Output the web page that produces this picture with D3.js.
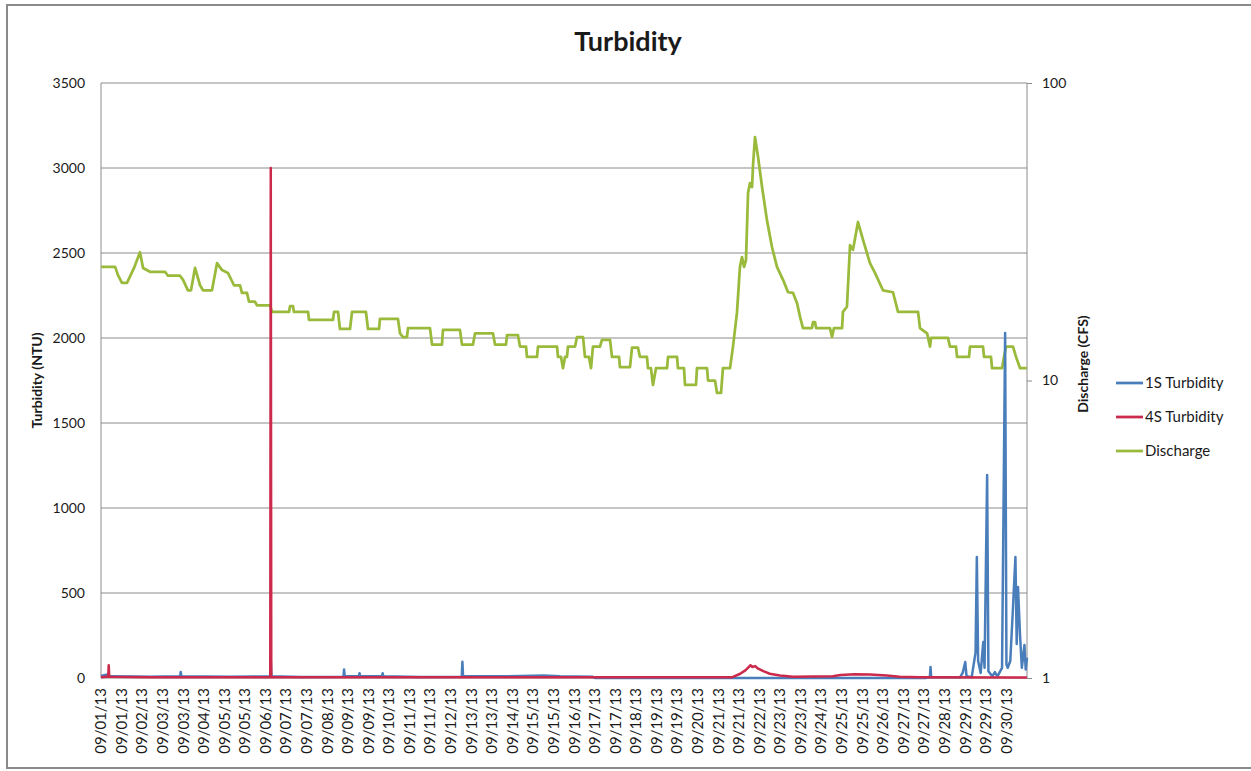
<!DOCTYPE html>
<html>
<head>
<meta charset="utf-8">
<script src="https://cdn.jsdelivr.net/npm/d3@7"></script>
<style>
  html, body { margin: 0; padding: 0; background: #fff; }
  svg { display: block; font-family: Lato, "Open Sans", sans-serif; }
</style>
</head>
<body>
<svg id="chart" width="1251" height="771"></svg>
<script>
// ---------- data ----------
const chartTitle = "Turbidity";
const leftAxisTitle = "Turbidity (NTU)";
const rightAxisTitle = "Discharge (CFS)";
const seriesNames = ["1S Turbidity", "4S Turbidity", "Discharge"];

// x-axis category labels, one every 16 hours starting 09/01/13 00:00
const xTickLabels = ["09/01/13","09/01/13","09/02/13","09/03/13","09/03/13","09/04/13","09/05/13","09/05/13",
  "09/06/13","09/07/13","09/07/13","09/08/13","09/09/13","09/09/13","09/10/13","09/11/13","09/11/13",
  "09/12/13","09/13/13","09/13/13","09/14/13","09/15/13","09/15/13","09/16/13","09/17/13","09/17/13",
  "09/18/13","09/19/13","09/19/13","09/20/13","09/21/13","09/21/13","09/22/13","09/23/13","09/23/13",
  "09/24/13","09/25/13","09/25/13","09/26/13","09/27/13","09/27/13","09/28/13","09/29/13","09/29/13","09/30/13"];
const labelStepHours = 16;
const totalHours = 720;

const leftTicks = [0, 500, 1000, 1500, 2000, 2500, 3000, 3500];
const rightTicks = [1, 10, 100];

// Discharge (CFS), hours since 09/01/13 00:00
const dischargeHours = [0,11,13.2,16.3,20.2,25.7,30.3,32.7,38.1,49.8,52.1,61.4,63.8,67.6,70,73.1,77,79.3,86.3,90.2,
  94.1,98.7,103.4,108.1,109.6,113.5,115.1,119.7,121.3,131.4,133,146.2,147,149.3,150,161,161.7,180.4,181.2,184.3,
  185.8,193.6,195.2,206,207.6,216.2,216.9,230.9,232.5,234.8,237.9,238.7,255.8,257.4,265.1,265.9,279.1,280.7,289.2,
  290.8,304.8,306.4,314.9,315.7,324.2,325.8,330.5,331.2,339,339.8,354.6,355.3,357.7,359.2,360.8,362.3,363.1,368.6,
  370.1,374.8,376.3,379.4,381,381.8,382.5,388,389.5,395.8,397.3,402.8,403.5,411.3,412.9,417.5,419.1,424.5,425.3,
  427.6,429.2,431.5,440.1,440.9,447.9,448.6,453.3,454.1,462.6,463.4,471.2,472,477.4,479,482.1,483.6,489.1,491.4,
  494.5,496.8,498.4,500,501.5,503.1,504.6,506.2,507,508.5,510.9,514,517.8,521.7,525.6,530.3,534.2,538.1,541.2,
  543.5,545.8,552.8,553.6,555.2,556,566.8,568.4,569.9,576.2,576.9,580,582.4,584.7,588.6,592.5,597.9,601.8,608,
  615.8,619.7,635.3,636.8,642.3,644.6,645.4,658.6,660.1,664.8,665.6,674.9,675.7,685.8,686.6,692,692.8,700.6,
  702.1,703.7,709.1,711.5,714.6,720];
const dischargeCfs = [24.1,24.1,22.6,21.3,21.3,23.9,27.0,23.9,23.2,23.2,22.5,22.5,21.8,20.1,20.1,23.9,20.9,20.1,20.1,24.8,
  23.5,23.0,20.9,20.9,19.7,19.7,18.4,18.4,17.9,17.9,17.0,17.0,17.8,17.8,17.0,17.0,16.0,16.0,17.0,17.0,
  14.9,14.9,17.0,17.0,14.9,14.9,16.1,16.1,14.4,14.0,14.0,15.0,15.0,13.2,13.2,14.8,14.8,13.2,13.2,
  14.4,14.4,13.2,13.2,14.2,14.2,13.0,13.0,12.0,12.0,13.0,13.0,12.0,12.0,11.0,12.0,12.0,13.0,13.0,
  14.0,14.0,12.0,12.0,11.0,12.0,13.0,13.0,13.7,13.7,12.0,12.0,11.1,11.1,12.9,12.9,12.0,12.0,11.0,
  11.0,9.66,11.0,11.0,12.0,12.0,11.0,11.0,9.66,9.66,11.0,11.0,10.0,10.0,9.08,9.08,11.0,11.0,13.0,
  16.9,24.1,26.0,24.1,25.4,42.7,46.1,44.7,53.0,65.8,56.4,44.7,34.6,28.1,24.1,21.8,19.8,19.7,18.2,
  16.4,15.0,15.0,15.7,15.7,15.0,15.0,14.0,15.0,15.0,17.0,17.7,28.5,27.5,34.1,29.7,24.8,23.0,20.1,
  19.8,17.0,17.0,15.0,14.4,13.0,13.9,13.9,13.0,13.0,12.0,12.0,13.0,13.0,12.0,12.0,11.0,11.0,
  12.0,13.0,13.0,12.0,11.0,11.0];

// 1S Turbidity (NTU)
const turb1sHours = [0,4,7,38,61.5,62,62.5,100,131.5,132,132.5,155,188.5,189,189.5,200,200.5,201,201.5,218.5,219,219.5,248,280.5,281,281.5,
  310,344,357,382,384,641,644.5,645,645.5,668,670,672,673,677,680,681,682,684,686,687,689,690,693,695,697,
  700.6,703,704,705,707,709,711,712,713,714.6,716,718,719,720];
const turb1sNtu = [12,20,10,8,10,35,10,8,10,105,10,6,8,50,10,12,12,28,12,10,28,10,6,8,95,12,
  10,14,10,8,0,0,5,65,5,5,30,94,10,5,150,712,100,30,212,60,1194,40,10,35,10,
  60,2029,80,60,100,400,712,200,535,250,60,194,50,120];

// 4S Turbidity (NTU)
const turb4sHours = [0,4,5.6,6,6.4,38,131.6,132,132.4,300,491,497,501,503,505,506.5,508.5,511,515,520,528,538,569,575,586,598,611,621,637,720];
const turb4sNtu = [5,8,8,75,8,4,5,3000,5,4,5,25,45,60,75,65,70,55,40,25,15,8,10,18,22,20,15,8,5,3];

// ---------- chart ----------
const colors = { s1: "#4a7ebb", s4: "#cc2a4c", dis: "#9aba3c", grid: "#8c8c8c", text: "#1a1a1a" };
const svg = d3.select("#chart");

const plot = { left: 101, right: 1027, top: 83, bottom: 678 };
const x = d3.scaleLinear().domain([0, totalHours]).range([plot.left, plot.right]);
const yL = d3.scaleLinear().domain([0, 3500]).range([plot.bottom, plot.top]);
const yR = d3.scaleLog().domain([1, 100]).range([plot.bottom, plot.top]);

// outer border
svg.append("rect").attr("x", 7).attr("y", 5).attr("width", 1260).attr("height", 763)
  .attr("fill", "none").attr("stroke", "#8a8a8a").attr("stroke-width", 2);

// gridlines
svg.append("g").selectAll("line").data(leftTicks).join("line")
  .attr("x1", plot.left).attr("x2", plot.right)
  .attr("y1", d => yL(d)).attr("y2", d => yL(d))
  .attr("stroke", colors.grid).attr("stroke-width", 1);

// plot frame sides
svg.append("line").attr("x1", plot.left).attr("x2", plot.left).attr("y1", plot.top).attr("y2", plot.bottom)
  .attr("stroke", colors.grid);
svg.append("line").attr("x1", plot.right).attr("x2", plot.right).attr("y1", plot.top).attr("y2", plot.bottom)
  .attr("stroke", colors.grid);

// left axis labels
const leftAxis = d3.axisLeft(yL).tickValues(leftTicks).tickFormat(d3.format("d")).tickSize(0).tickPadding(16);
const gL = svg.append("g").attr("transform", `translate(${plot.left},0)`).call(leftAxis);
gL.select(".domain").remove();
gL.selectAll("text").attr("font-size", 14).attr("fill", colors.text).attr("font-family", "Lato");

// right axis labels
const rightAxis = d3.axisRight(yR).tickValues(rightTicks).tickFormat(d3.format("d")).tickSize(5).tickPadding(10);
const gR = svg.append("g").attr("transform", `translate(${plot.right},0)`).call(rightAxis);
gR.select(".domain").remove();
gR.selectAll("line").attr("stroke", colors.grid);
gR.selectAll("text").attr("font-size", 14).attr("fill", colors.text).attr("font-family", "Lato");

// x axis labels
const xTicks = xTickLabels.map((d, i) => i * labelStepHours);
const gX = svg.append("g");
gX.selectAll("text").data(xTickLabels).join("text")
  .attr("transform", (d, i) => `translate(${x(xTicks[i])},${plot.bottom + 10}) rotate(-90)`)
  .attr("text-anchor", "end").attr("dy", "0.35em")
  .attr("font-size", 15).attr("fill", colors.text)
  .text(d => d);

// lines
const lineDis = d3.line().x((d, i) => x(dischargeHours[i])).y(d => yR(d));
svg.append("path").datum(dischargeCfs).attr("d", lineDis)
  .attr("fill", "none").attr("stroke", colors.dis).attr("stroke-width", 2.75).attr("stroke-linejoin", "round");

const line1 = d3.line().x((d, i) => x(turb1sHours[i])).y(d => yL(d));
svg.append("path").datum(turb1sNtu).attr("d", line1)
  .attr("fill", "none").attr("stroke", colors.s1).attr("stroke-width", 2.5).attr("stroke-linejoin", "round");

const line4 = d3.line().x((d, i) => x(turb4sHours[i])).y(d => yL(d));
svg.append("path").datum(turb4sNtu).attr("d", line4)
  .attr("fill", "none").attr("stroke", colors.s4).attr("stroke-width", 2.5).attr("stroke-linejoin", "round");

// title
svg.append("text").attr("x", 628).attr("y", 51).attr("text-anchor", "middle")
  .attr("font-size", 27).attr("font-weight", "bold").attr("fill", colors.text).text(chartTitle);

// axis titles
svg.append("text").attr("transform", `translate(42,${(plot.top + plot.bottom) / 2}) rotate(-90)`)
  .attr("text-anchor", "middle").attr("font-size", 14).attr("font-weight", "bold").attr("fill", colors.text)
  .text(leftAxisTitle);
svg.append("text").attr("transform", `translate(1088,364) rotate(-90)`)
  .attr("text-anchor", "middle").attr("font-size", 14).attr("font-weight", "bold").attr("fill", colors.text)
  .text(rightAxisTitle);

// legend
const legendColors = [colors.s1, colors.s4, colors.dis];
const lg = svg.append("g").attr("transform", "translate(1116,383)");
const items = lg.selectAll("g").data(seriesNames).join("g").attr("transform", (d, i) => `translate(0,${i * 34})`);
items.append("line").attr("x1", 0).attr("x2", 27).attr("stroke", (d, i) => legendColors[i]).attr("stroke-width", 2.75);
items.append("text").attr("x", 29).attr("dy", "0.35em").attr("font-size", 15).attr("fill", colors.text).text(d => d);
</script>
</body>
</html>
